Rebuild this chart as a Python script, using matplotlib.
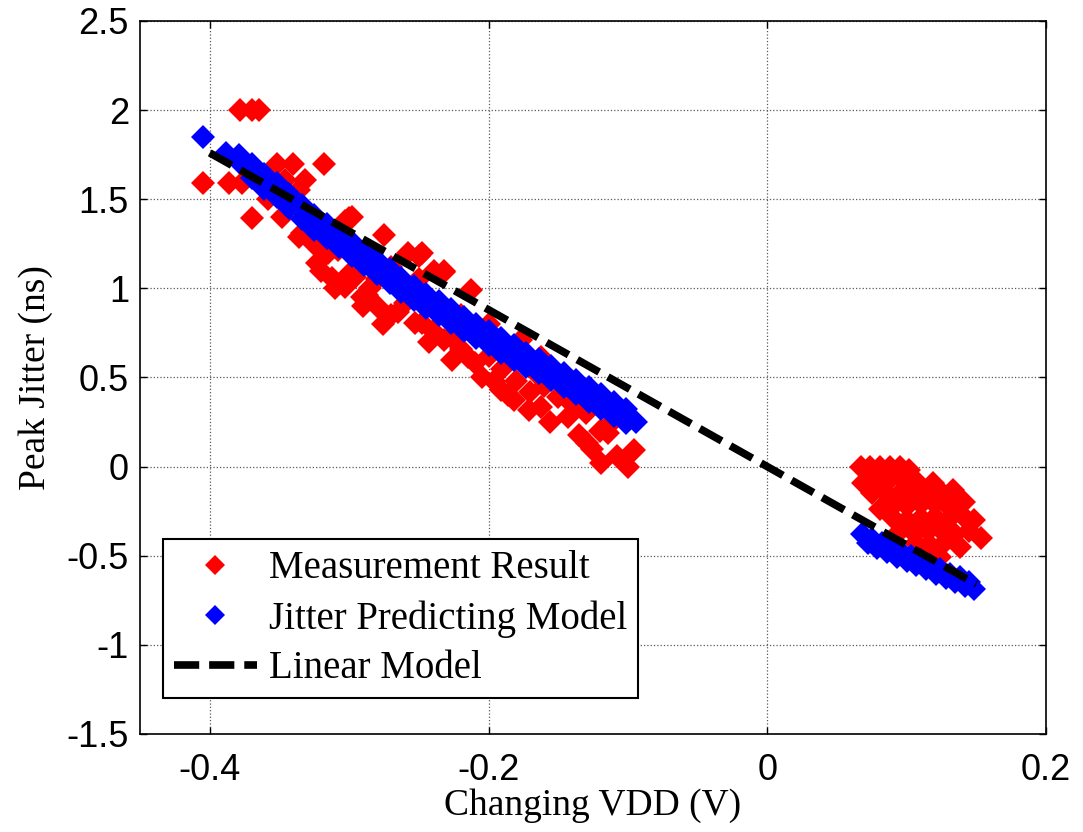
import matplotlib
matplotlib.use("Agg")
import matplotlib.pyplot as plt
import numpy as np

# measured points (left cluster, then right cluster)
meas_x = [
    -0.405, -0.386, -0.377, -0.378, -0.370, -0.365, -0.370, -0.352, -0.340, -0.318,
    -0.346, -0.332, -0.336, -0.358, -0.348, -0.336, -0.315, -0.303, -0.298, -0.334,
    -0.300, -0.275, -0.318, -0.308, -0.320, -0.296, -0.2575, -0.248, -0.239, -0.232,
    -0.303, -0.279, -0.260, -0.248, -0.227, -0.291, -0.250, -0.232, -0.2125, -0.253,
    -0.232, -0.2145, -0.205, -0.191, -0.1766, -0.162, -0.162, -0.143, -0.129, -0.114,
    -0.0957, -0.100, -0.112, -0.150, -0.1816, -0.119,
    -0.310, -0.290, -0.270, -0.280, -0.260, -0.240, -0.220, -0.200, -0.210, -0.190,
    -0.180, -0.170, -0.160, -0.140, -0.130, -0.120, -0.135, -0.200, -0.220, -0.240,
    -0.265, -0.285, -0.300, -0.325, -0.310, -0.290, -0.270, -0.250, -0.200, -0.180,
    -0.165, -0.150, -0.145, -0.323, -0.312, -0.287, -0.276, -0.243, -0.226, -0.196,
    -0.186, -0.171, -0.156, -0.126, -0.108,
    0.067, 0.074, 0.081, 0.088, 0.095, 0.102,
    0.069, 0.078, 0.088, 0.098, 0.108, 0.119,
    0.075, 0.085, 0.095, 0.105, 0.115, 0.125, 0.133,
    0.081, 0.090, 0.100, 0.110, 0.120, 0.130, 0.141,
    0.090, 0.100, 0.110, 0.120, 0.130, 0.140, 0.148,
    0.095, 0.105, 0.115, 0.125, 0.135, 0.145, 0.153,
    0.107, 0.117, 0.127, 0.112, 0.124, 0.138,
]
meas_y = [
    1.59, 1.59, 1.59, 2.00, 2.00, 2.00, 1.395, 1.70, 1.70, 1.70,
    1.61, 1.61, 1.55, 1.50, 1.40, 1.29, 1.20, 1.38, 1.40, 1.31,
    1.395, 1.30, 1.20, 1.215, 1.10, 1.065, 1.20, 1.20, 1.10, 1.10,
    1.01, 0.895, 0.92, 0.806, 0.727, 0.95, 1.18, 1.09, 0.99, 0.806,
    0.71, 0.615, 0.503, 0.43, 0.71, 0.615, 0.335, 0.278, 0.132, 0.19,
    0.093, -0.002, 0.245, 0.39, 0.374, 0.02,
    1.00, 0.90, 0.85, 1.05, 0.98, 0.90, 0.85, 0.70, 0.58, 0.55,
    0.48, 0.42, 0.45, 0.35, 0.30, 0.20, 0.18, 0.62, 0.66, 0.76,
    0.87, 1.00, 1.08, 1.25, 1.32, 1.20, 1.12, 1.05, 0.80, 0.62,
    0.52, 0.50, 0.42, 1.14, 1.06, 0.96, 0.80, 0.70, 0.60, 0.48,
    0.40, 0.32, 0.25, 0.10, 0.06,
    0.0, 0.0, 0.0, -0.005, 0.0, -0.02,
    -0.09, -0.08, -0.07, -0.08, -0.09, -0.09,
    -0.15, -0.15, -0.15, -0.15, -0.14, -0.15, -0.13,
    -0.24, -0.22, -0.22, -0.21, -0.21, -0.22, -0.20,
    -0.29, -0.30, -0.29, -0.28, -0.30, -0.27, -0.30,
    -0.36, -0.37, -0.36, -0.36, -0.38, -0.36, -0.40,
    -0.43, -0.44, -0.43, -0.47, -0.507, -0.45,
]

# jitter predicting model
model_x = [
    -0.405,
    -0.388, -0.379, -0.370, -0.361, -0.352, -0.343, -0.334, -0.325, -0.316, -0.307,
    -0.298, -0.289, -0.280, -0.271, -0.2625, -0.2535, -0.2446, -0.2356, -0.2267, -0.2177,
    -0.2088, -0.1998, -0.1909, -0.1819, -0.173, -0.164, -0.155, -0.146, -0.1372, -0.1282,
    -0.1193, -0.1103, -0.1014, -0.0942,
    -0.379, -0.370, -0.361, -0.352, -0.343, -0.334, -0.325, -0.316, -0.307,
    -0.298, -0.289, -0.280, -0.271, -0.2625, -0.2535, -0.2446, -0.2356, -0.2267, -0.2177,
    -0.2088, -0.1998, -0.1909, -0.1819, -0.173, -0.164, -0.155, -0.146, -0.1372, -0.1282,
    -0.1193, -0.1103, -0.1014,
    -0.370, -0.361, -0.352, -0.343, -0.334, -0.325, -0.316, -0.307,
    -0.298, -0.289, -0.280, -0.271, -0.2625, -0.2535, -0.2446, -0.2356, -0.2267, -0.2177,
    -0.2088, -0.1998, -0.1909, -0.1819, -0.173, -0.164, -0.155, -0.146, -0.1372, -0.1282,
    -0.1193, -0.1103, -0.1014,
    0.068, 0.075, 0.082, 0.089, 0.096, 0.103, 0.110, 0.117, 0.124, 0.131, 0.138, 0.145,
    0.072, 0.079, 0.086, 0.093, 0.100, 0.107, 0.114, 0.121, 0.128, 0.135, 0.142, 0.148,
]
model_y = [
    1.85,
    1.76, 1.71, 1.66, 1.60, 1.55, 1.49, 1.43, 1.37, 1.32, 1.27,
    1.22, 1.17, 1.12, 1.07, 1.02, 0.975, 0.93, 0.89, 0.845, 0.80,
    0.76, 0.72, 0.68, 0.64, 0.60, 0.565, 0.525, 0.485, 0.445, 0.405,
    0.365, 0.325, 0.285, 0.25,
    1.75, 1.70, 1.64, 1.59, 1.53, 1.47, 1.41, 1.36, 1.31,
    1.26, 1.21, 1.16, 1.11, 1.06, 1.015, 0.97, 0.93, 0.885, 0.84,
    0.80, 0.76, 0.72, 0.68, 0.64, 0.605, 0.565, 0.525, 0.485, 0.445,
    0.405, 0.365, 0.325,
    1.62, 1.56, 1.51, 1.45, 1.39, 1.33, 1.28, 1.23,
    1.18, 1.13, 1.08, 1.03, 0.98, 0.935, 0.89, 0.85, 0.805, 0.76,
    0.72, 0.68, 0.64, 0.60, 0.56, 0.525, 0.485, 0.445, 0.405, 0.365,
    0.325, 0.285, 0.245,
    -0.38, -0.405, -0.43, -0.455, -0.48, -0.50, -0.525, -0.55, -0.575, -0.60, -0.62, -0.645,
    -0.43, -0.455, -0.48, -0.505, -0.53, -0.55, -0.575, -0.60, -0.625, -0.65, -0.67, -0.685,
]

# linear model endpoints
lin_x = [-0.40, 0.15]
lin_y = [1.76, -0.66]

x_ticks = [-0.4, -0.2, 0, 0.2]
x_tick_labels = ["-0.4", "-0.2", "0", "0.2"]
y_ticks = [-1.5, -1, -0.5, 0, 0.5, 1, 1.5, 2, 2.5]
y_tick_labels = ["-1.5", "-1", "-0.5", "0", "0.5", "1", "1.5", "2", "2.5"]

fig = plt.figure(figsize=(10.83, 8.32), dpi=100)
ax = fig.add_axes([0.1293, 0.1178, 0.8366, 0.857])

ax.plot(meas_x, meas_y, linestyle="none", marker="D", markersize=12,
        color="#ff0000", markeredgewidth=0, label="Measurement Result", zorder=3)
ax.plot(model_x, model_y, linestyle="none", marker="D", markersize=12,
        color="#0000ff", markeredgewidth=0, label="Jitter Predicting Model", zorder=4)
ax.plot(lin_x, lin_y, color="black", linewidth=5.5, linestyle=(0, (3.3, 1.3)),
        label="Linear Model", zorder=5)

ax.set_xlim(-0.45, 0.2)
ax.set_ylim(-1.5, 2.5)
ax.set_xticks(x_ticks)
ax.set_xticklabels(x_tick_labels)
ax.set_yticks(y_ticks)
ax.set_yticklabels(y_tick_labels)
ax.grid(True, linestyle=":", color="0.35", linewidth=0.9)
ax.tick_params(direction="in", length=5, width=1, top=True, right=True, labelsize=26)
ax.tick_params(axis="x", pad=14)
ax.tick_params(axis="y", pad=8)
for lab in ax.get_xticklabels() + ax.get_yticklabels():
    lab.set_fontfamily("Liberation Sans")
for sp in ax.spines.values():
    sp.set_linewidth(1.2)

ax.set_xlabel("Changing VDD (V)", fontfamily="Liberation Serif", fontsize=27, labelpad=0)
ax.set_ylabel("Peak Jitter (ns)", fontfamily="Liberation Serif", fontsize=27, labelpad=10)

leg = ax.legend(loc="lower left", bbox_to_anchor=(0.025, 0.05), borderaxespad=0,
                fancybox=False, edgecolor="black", framealpha=1,
                prop={"family": "Liberation Serif", "size": 28},
                handlelength=2.15, labelspacing=0.33, borderpad=0.28, handletextpad=0.3,
                markerscale=0.85)
leg.get_frame().set_linewidth(1.5)

fig.savefig("out.png", dpi=100)
